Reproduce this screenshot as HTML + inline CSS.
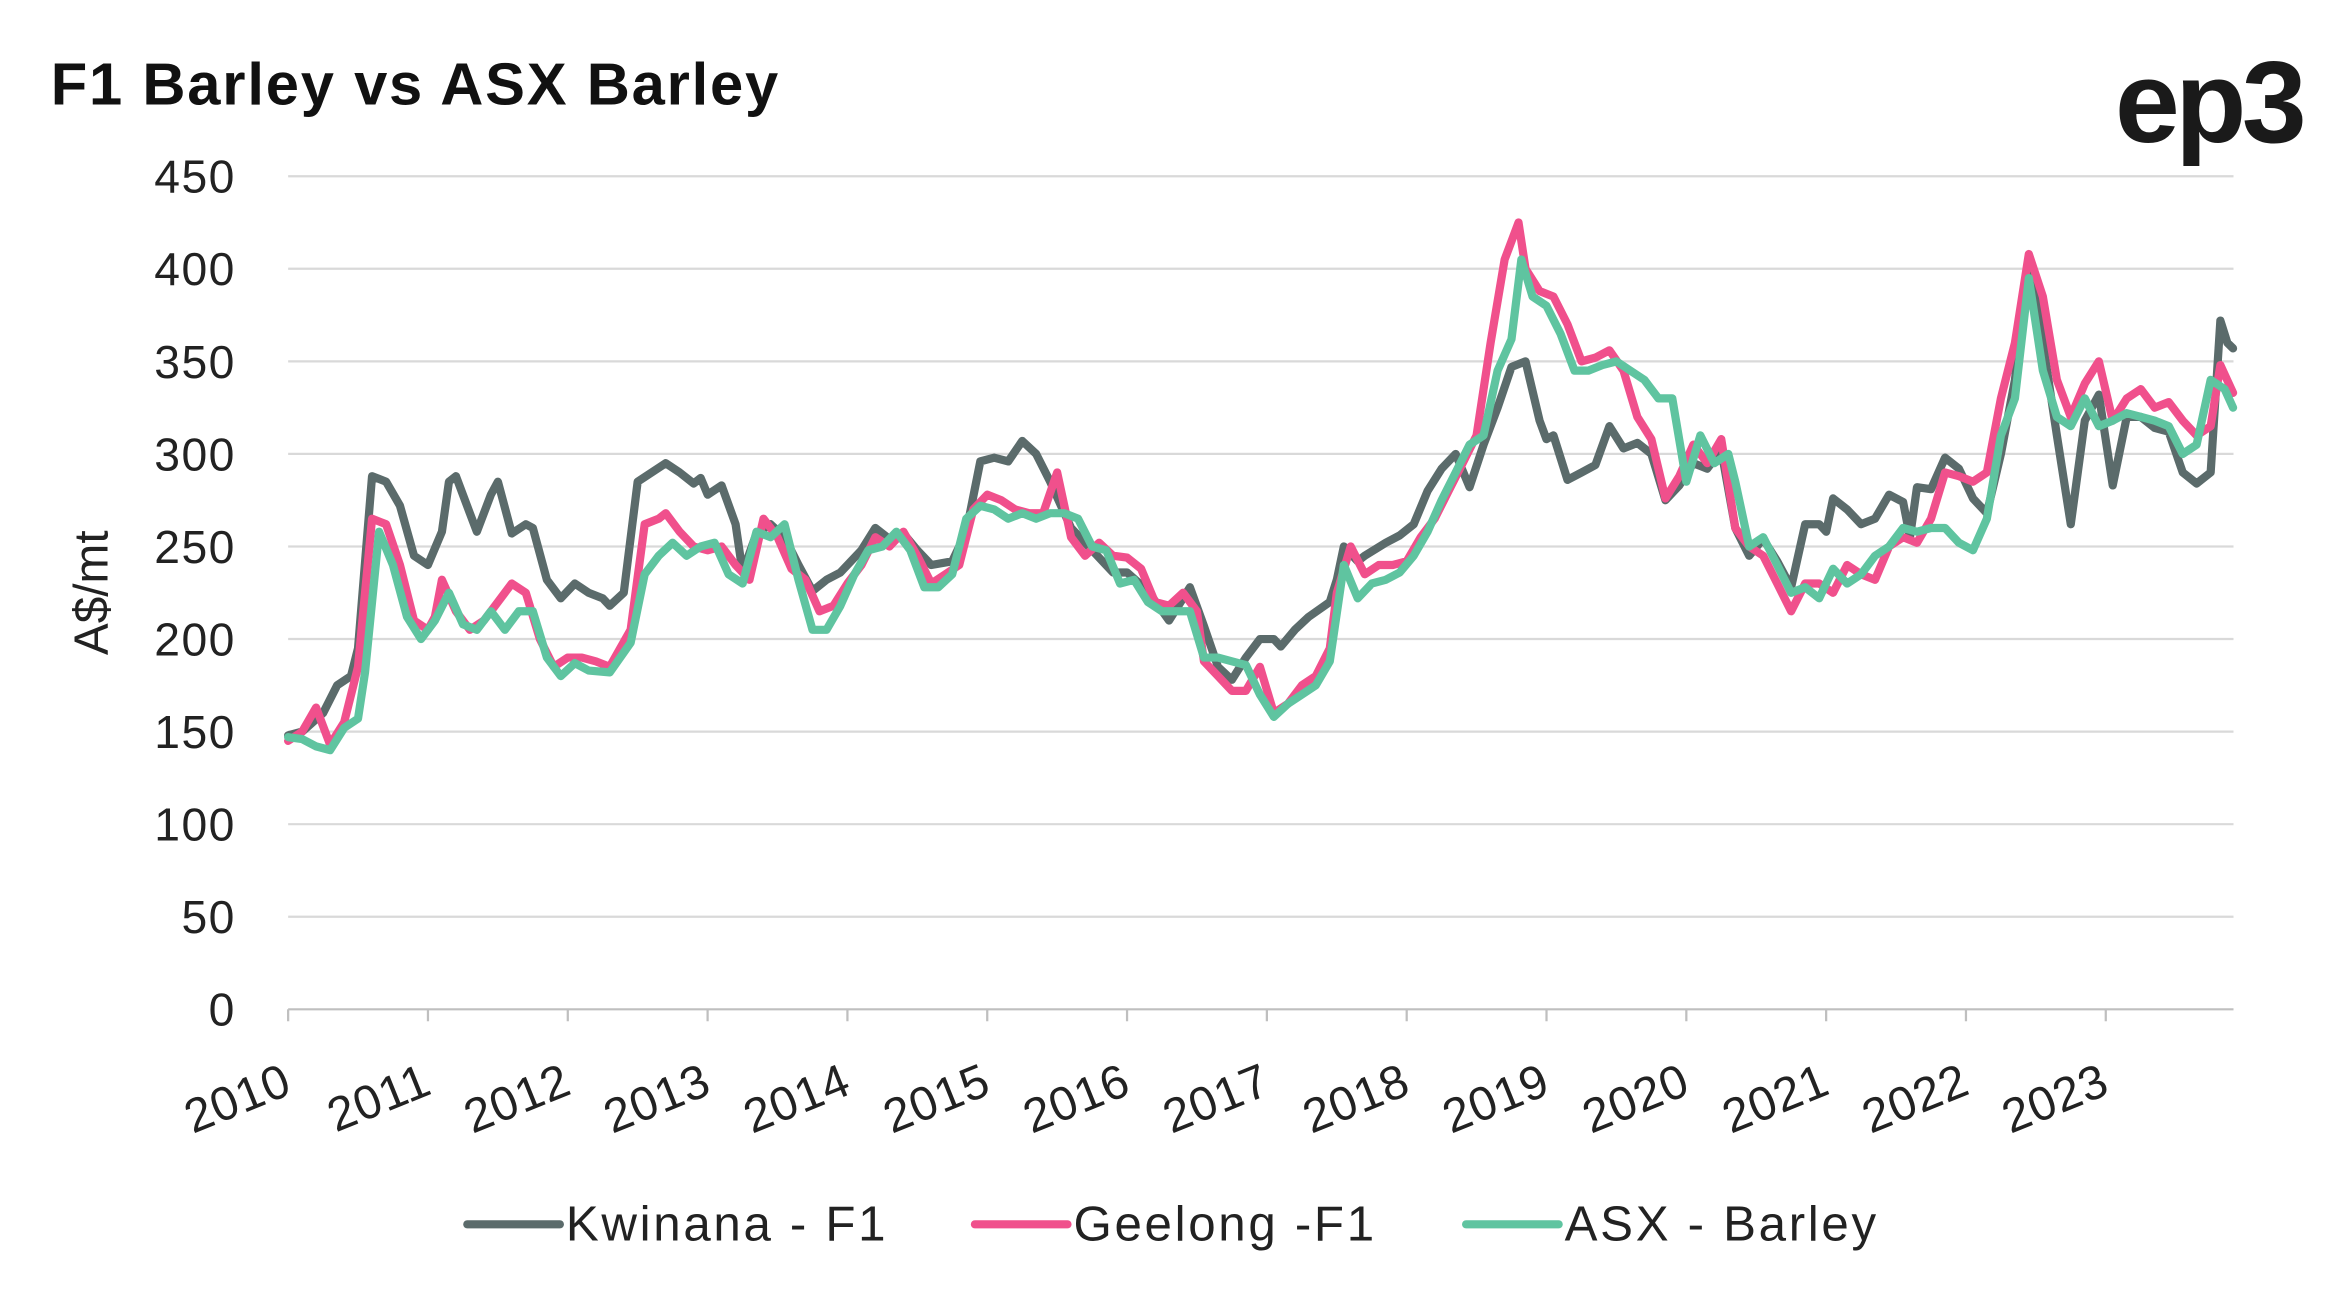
<!DOCTYPE html>
<html><head><meta charset="utf-8">
<style>
html,body{margin:0;padding:0;background:#fff;}
svg{display:block;}
text{font-family:"Liberation Sans",sans-serif;}
</style></head>
<body>
<svg id="chart" width="2341" height="1302" viewBox="0 0 1568 872" xmlns="http://www.w3.org/2000/svg">
<rect x="0" y="0" width="1568" height="872" fill="#fff"/>
<text x="34" y="70" font-size="40" font-weight="bold" fill="#111" letter-spacing="1.2">F1 Barley vs ASX Barley</text>
<text x="1542" y="95" font-size="78" font-weight="bold" fill="#1a1a1a" text-anchor="end" letter-spacing="-3">ep3</text>
<g id="grid"></g>
<g id="yticks"></g>
<g id="xticks"></g>
<text transform="translate(72,397) rotate(-90)" font-size="32" fill="#222" text-anchor="middle">A$/mt</text>
<g id="series"></g>
<g id="legend"></g>
</svg>
<script>
const yTicks=[0,50,100,150,200,250,300,350,400,450];
const xYears=[2010,2011,2012,2013,2014,2015,2016,2017,2018,2019,2020,2021,2022,2023];
const seriesNames=["Kwinana - F1","Geelong -F1","ASX - Barley"];
const kwT=[2010.0,2010.1,2010.25,2010.35,2010.45,2010.5,2010.6,2010.7,2010.8,2010.9,2011.0,2011.1,2011.15,2011.2,2011.3,2011.35,2011.45,2011.5,2011.6,2011.7,2011.75,2011.85,2011.95,2012.05,2012.15,2012.25,2012.3,2012.4,2012.5,2012.6,2012.7,2012.8,2012.9,2012.95,2013.0,2013.1,2013.2,2013.25,2013.35,2013.45,2013.55,2013.65,2013.75,2013.85,2013.95,2014.1,2014.2,2014.3,2014.4,2014.5,2014.6,2014.75,2014.85,2014.95,2015.05,2015.15,2015.25,2015.35,2015.45,2015.6,2015.75,2015.9,2016.0,2016.15,2016.3,2016.4,2016.45,2016.55,2016.65,2016.75,2016.85,2016.95,2017.05,2017.1,2017.2,2017.3,2017.45,2017.5,2017.55,2017.65,2017.7,2017.85,2017.95,2018.05,2018.15,2018.25,2018.35,2018.45,2018.55,2018.65,2018.75,2018.85,2018.95,2019.0,2019.05,2019.15,2019.25,2019.35,2019.45,2019.55,2019.65,2019.75,2019.85,2019.95,2020.05,2020.15,2020.25,2020.35,2020.45,2020.55,2020.65,2020.75,2020.85,2020.95,2021.0,2021.05,2021.15,2021.25,2021.35,2021.45,2021.55,2021.6,2021.65,2021.75,2021.85,2021.95,2022.05,2022.15,2022.25,2022.35,2022.45,2022.55,2022.65,2022.75,2022.85,2022.95,2023.05,2023.15,2023.25,2023.35,2023.45,2023.55,2023.65,2023.75,2023.82,2023.87,2023.91];
const kwV=[148,150,160,175,180,195,288,285,272,245,240,258,285,288,268,258,278,285,257,262,260,232,222,230,225,222,218,225,285,290,295,290,284,287,278,283,262,236,257,262,255,240,226,232,236,248,260,254,257,248,240,242,258,296,298,296,307,300,285,260,248,236,236,226,210,222,228,207,185,178,190,200,200,196,205,212,220,232,250,242,245,252,256,262,280,292,300,282,305,325,347,350,318,308,310,286,290,294,315,303,306,300,275,283,295,292,302,260,245,254,242,228,262,262,258,276,270,262,265,278,274,255,282,281,298,292,276,268,300,340,405,360,310,262,318,332,283,320,320,314,312,290,284,290,372,360,357];
const geT=[2010.0,2010.1,2010.2,2010.3,2010.4,2010.5,2010.6,2010.7,2010.8,2010.9,2011.0,2011.05,2011.1,2011.2,2011.3,2011.4,2011.5,2011.6,2011.7,2011.8,2011.9,2012.0,2012.1,2012.2,2012.3,2012.45,2012.55,2012.65,2012.7,2012.8,2012.9,2013.0,2013.1,2013.2,2013.3,2013.4,2013.5,2013.6,2013.7,2013.8,2013.9,2014.0,2014.1,2014.2,2014.3,2014.4,2014.5,2014.6,2014.7,2014.8,2014.9,2015.0,2015.1,2015.2,2015.3,2015.4,2015.5,2015.6,2015.7,2015.8,2015.9,2016.0,2016.1,2016.2,2016.3,2016.4,2016.5,2016.55,2016.65,2016.75,2016.85,2016.95,2017.05,2017.15,2017.25,2017.35,2017.45,2017.5,2017.6,2017.7,2017.8,2017.9,2018.0,2018.1,2018.2,2018.3,2018.4,2018.5,2018.6,2018.7,2018.8,2018.85,2018.95,2019.05,2019.15,2019.25,2019.35,2019.45,2019.55,2019.65,2019.75,2019.85,2019.95,2020.05,2020.15,2020.25,2020.35,2020.45,2020.55,2020.65,2020.75,2020.85,2020.95,2021.05,2021.15,2021.25,2021.35,2021.45,2021.55,2021.65,2021.75,2021.85,2021.95,2022.05,2022.15,2022.25,2022.35,2022.45,2022.55,2022.65,2022.75,2022.85,2022.95,2023.05,2023.15,2023.25,2023.35,2023.45,2023.55,2023.65,2023.75,2023.82,2023.91];
const geV=[145,150,163,143,155,185,265,262,240,210,205,212,232,215,205,210,220,230,225,200,185,190,190,188,185,205,262,265,268,258,250,248,250,240,232,265,255,238,232,215,218,230,240,255,250,258,245,230,235,240,270,278,275,270,268,268,290,255,245,252,245,244,238,220,218,225,215,188,180,172,172,185,160,165,175,180,195,225,250,235,240,240,242,255,265,280,295,310,360,405,425,400,388,385,370,350,352,356,345,320,308,276,288,305,295,308,260,250,245,230,215,230,230,225,240,235,232,250,255,252,265,290,288,285,290,330,360,408,385,340,320,338,350,318,330,335,325,328,318,310,315,348,333];
const asT=[2010.0,2010.1,2010.2,2010.3,2010.4,2010.5,2010.55,2010.65,2010.75,2010.85,2010.95,2011.05,2011.15,2011.25,2011.35,2011.45,2011.55,2011.65,2011.75,2011.85,2011.95,2012.05,2012.15,2012.3,2012.45,2012.55,2012.65,2012.75,2012.85,2012.95,2013.05,2013.15,2013.25,2013.35,2013.45,2013.55,2013.65,2013.75,2013.85,2013.95,2014.05,2014.15,2014.25,2014.35,2014.45,2014.55,2014.65,2014.75,2014.85,2014.95,2015.05,2015.15,2015.25,2015.35,2015.45,2015.55,2015.65,2015.75,2015.85,2015.95,2016.05,2016.15,2016.25,2016.35,2016.45,2016.55,2016.65,2016.75,2016.85,2016.95,2017.05,2017.15,2017.25,2017.35,2017.45,2017.55,2017.65,2017.75,2017.85,2017.95,2018.05,2018.15,2018.25,2018.35,2018.45,2018.55,2018.65,2018.75,2018.82,2018.9,2019.0,2019.1,2019.2,2019.3,2019.4,2019.5,2019.6,2019.7,2019.8,2019.9,2020.0,2020.1,2020.2,2020.3,2020.35,2020.45,2020.55,2020.65,2020.75,2020.85,2020.95,2021.05,2021.15,2021.25,2021.35,2021.45,2021.55,2021.65,2021.75,2021.85,2021.95,2022.05,2022.15,2022.25,2022.35,2022.45,2022.55,2022.65,2022.75,2022.85,2022.95,2023.05,2023.15,2023.25,2023.35,2023.45,2023.55,2023.65,2023.75,2023.85,2023.91];
const asV=[147,146,142,140,152,157,182,258,240,212,200,210,225,208,205,215,205,215,215,190,180,187,183,182,198,235,245,252,245,250,252,235,230,258,255,262,232,205,205,218,235,248,250,258,248,228,228,235,265,272,270,265,268,265,268,268,265,250,248,230,232,220,215,215,215,190,190,188,186,170,158,165,170,175,188,240,222,230,232,236,245,258,275,290,305,310,345,362,405,385,380,365,345,345,348,350,345,340,330,330,285,310,295,300,285,250,255,240,225,228,222,238,230,235,245,250,260,258,260,260,252,248,265,310,330,395,345,320,315,330,315,318,322,320,318,315,300,305,340,335,325];

const NS="http://www.w3.org/2000/svg";
const X0=193,XPY=93.65,Y0=676,YP=(676-118)/450;
function xs(t){return X0+(t-2010)*XPY;}
function ys(v){return Y0-v*YP;}
function mk(tag,attrs,parent){const e=document.createElementNS(NS,tag);for(const k in attrs)e.setAttribute(k,attrs[k]);parent.appendChild(e);return e;}
const grid=document.getElementById('grid'),yt=document.getElementById('yticks'),xt=document.getElementById('xticks');
yTicks.forEach(v=>{
  const l=mk('line',{x1:193,x2:1496,y1:ys(v),y2:ys(v),stroke:v===0?'#bfbfbf':'#d9d9d9','stroke-width':1.5},grid);
  
  
  const t=mk('text',{x:158,y:ys(v)+11,'font-size':31,fill:'#222','text-anchor':'end','letter-spacing':1},yt);
  t.textContent=v;
  
  
});
xYears.forEach(y=>{
  const x=xs(y);
  const l=mk('line',{x1:x,x2:x,y1:676,y2:684,stroke:'#bfbfbf','stroke-width':1.5},xt);
  
  
  const t=mk('text',{transform:`translate(${x+4},${732}) rotate(-22)`,'font-size':32,fill:'#222','text-anchor':'end','letter-spacing':0.5},xt);
  t.textContent=y;
  
  
});
const colors=['#5b6b6b','#f0508c','#5fc4a0'];
const data=[[kwT,kwV],[geT,geV],[asT,asV]];
const sg=document.getElementById('series');
[0,1,2].forEach(i=>{
  const [T,V]=data[i];
  const pts=T.map((t,j)=>xs(t).toFixed(1)+','+ys(V[j]).toFixed(1)).join(' ');
  const p=mk('polyline',{points:pts,fill:'none',stroke:colors[i],'stroke-width':5.5,'stroke-linejoin':'round','stroke-linecap':'round'},sg);
  
  
});
const lg=document.getElementById('legend');
const lx=[313,653,982];
seriesNames.forEach((n,i)=>{
  const g=mk('g',{},lg);
  
  
  mk('line',{x1:lx[i],x2:lx[i]+62,y1:820,y2:820,stroke:colors[i],'stroke-width':5.5,'stroke-linecap':'round'},g);
  const t=mk('text',{x:lx[i]+66,y:831,'font-size':33,fill:'#222','letter-spacing':1.8},g);
  t.textContent=n;
});
</script>
</body></html>
